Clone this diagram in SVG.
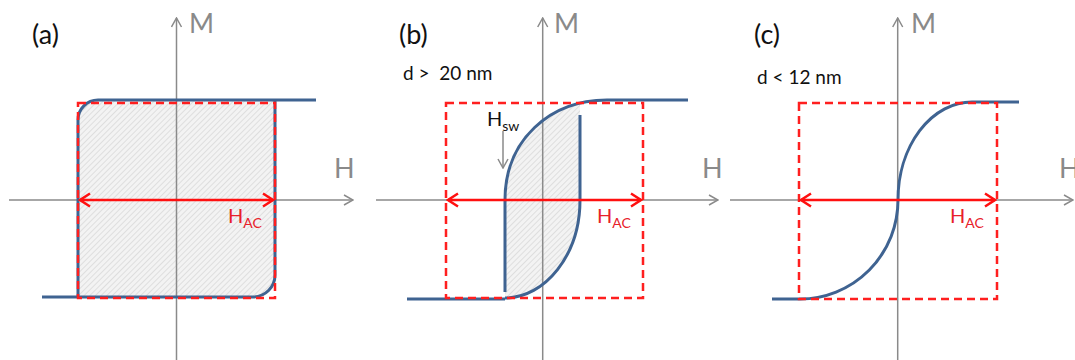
<svg xmlns="http://www.w3.org/2000/svg" width="1075" height="360" viewBox="0 0 1075 360">
<style>
.axis{stroke:#8a8a8a;stroke-width:1.5;fill:none}
.loop{stroke:#3f6391;stroke-width:3;fill:none;stroke-linecap:butt}
.box{stroke:#ff1f1f;stroke-width:2.5;fill:none;stroke-dasharray:8 5}
.hac{stroke:#ff1010;stroke-width:2.5;fill:none}
.hatch{fill:url(#hatch);stroke:none}
.lbl{font-family:Lato,"Liberation Sans",sans-serif;fill:#111}
.axl{font-family:Lato,"Liberation Sans",sans-serif;fill:#8a8a8a;font-size:27px}
.red{font-family:Lato,"Liberation Sans",sans-serif;fill:#e8202a}
</style>
<defs>
<pattern id="hatch" patternUnits="userSpaceOnUse" width="4" height="4" patternTransform="rotate(45)">
<rect width="4" height="4" fill="#f3f3f3"/>
<line x1="0" y1="0" x2="0" y2="4" stroke="#d6d6d6" stroke-width="1.4"/>
</pattern>
<marker id="ga" viewBox="0 0 12 12" refX="11" refY="6" markerWidth="12" markerHeight="12" markerUnits="userSpaceOnUse" orient="auto">
<path d="M2,1 L11,6 L2,11" fill="none" stroke="#8a8a8a" stroke-width="1.5"/>
</marker>
<marker id="ra" viewBox="0 0 16 16" refX="14" refY="8" markerWidth="16" markerHeight="16" markerUnits="userSpaceOnUse" orient="auto-start-reverse">
<path d="M4,1.5 L14,8 L4,14.5" fill="none" stroke="#ff1010" stroke-width="2.5"/>
</marker>
<clipPath id="clipb"><rect x="504" y="90" width="76" height="215"/></clipPath>
</defs>

<g id="panel-a">
<path class="hatch" d="M78,297 L253,297 A22,22 0 0 0 275,275 L275,100 L98,100 A20,20 0 0 0 78,120 Z"/>
<line class="axis" x1="9" y1="200" x2="353" y2="200" marker-end="url(#ga)"/>
<line class="axis" x1="176.5" y1="360" x2="176.5" y2="18" marker-end="url(#ga)"/>
<text class="axl" x="189" y="33">M</text>
<text class="axl" x="334" y="178">H</text>
<text class="lbl" x="32" y="44" font-size="27">(a)</text>
<path class="loop" d="M42,297 L253,297 A22,22 0 0 0 275,275 L275,100 M316,100 L98,100 A20,20 0 0 0 78,120 L78,297"/>
<rect class="box" x="78" y="103" width="197" height="195"/>
<line class="hac" x1="80" y1="200" x2="273" y2="200" marker-start="url(#ra)" marker-end="url(#ra)"/>
<text class="red" x="228" y="223" font-size="20">H<tspan font-size="14" dy="5">AC</tspan></text>
</g>

<g id="panel-b">
<path class="hatch" clip-path="url(#clipb)" d="M505,298 L505,200 C505,140 550,100 607,100 L580,100 L580,200 C580,255 545,298 505,298 Z"/>
<line class="axis" x1="376" y1="200" x2="718" y2="200" marker-end="url(#ga)"/>
<line class="axis" x1="542.7" y1="360" x2="542.7" y2="18" marker-end="url(#ga)"/>
<text class="axl" x="554" y="33">M</text>
<text class="axl" x="702" y="178">H</text>
<text class="lbl" x="399" y="44" font-size="27">(b)</text>
<text class="lbl" x="403" y="80" font-size="19" xml:space="preserve">d &gt;  20 nm</text>
<path class="loop" d="M407,299 L505,299 M505,292 L505,200 C505,140 550,100 607,100 L688,100 M580,115 L580,200 C580,255 545,298 505,298"/>
<rect class="box" x="446" y="103" width="197" height="195"/>
<line class="hac" x1="448" y1="200" x2="641" y2="200" marker-start="url(#ra)" marker-end="url(#ra)"/>
<text class="red" x="597" y="223" font-size="20">H<tspan font-size="14" dy="5">AC</tspan></text>
<text class="lbl" x="487" y="126" font-size="20">H<tspan font-size="14" dy="5">sw</tspan></text>
<line class="axis" x1="503" y1="131" x2="503" y2="168" marker-end="url(#ga)"/>
</g>

<g id="panel-c">
<line class="axis" x1="730" y1="200" x2="1073" y2="200" marker-end="url(#ga)"/>
<line class="axis" x1="897.7" y1="360" x2="897.7" y2="18" marker-end="url(#ga)"/>
<text class="axl" x="911" y="33">M</text>
<text class="axl" x="1059" y="178">H</text>
<text class="lbl" x="754" y="44" font-size="27">(c)</text>
<text class="lbl" x="757" y="84" font-size="19">d &lt; 12 nm</text>
<path class="loop" d="M772,299 L800,299 A98,99 0 0 0 898,200 A74,98 0 0 1 972,102 L1019,102"/>
<rect class="box" x="799" y="103" width="198" height="196"/>
<line class="hac" x1="801" y1="200" x2="995" y2="200" marker-start="url(#ra)" marker-end="url(#ra)"/>
<text class="red" x="950" y="223" font-size="20">H<tspan font-size="14" dy="5">AC</tspan></text>
</g>
</svg>
